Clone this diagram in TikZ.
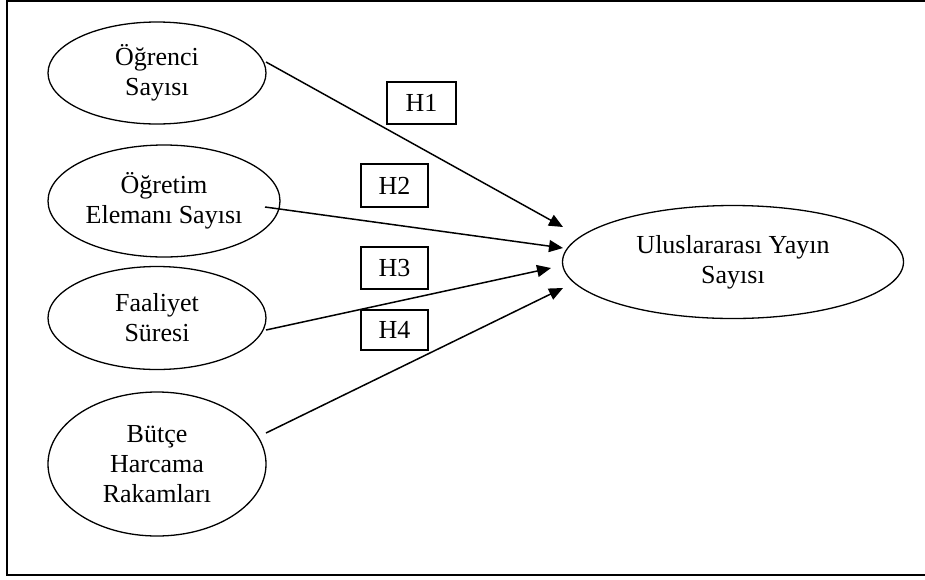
\documentclass[tikz,border=0pt]{standalone}
\usepackage{fontspec}
\setmainfont{Liberation Serif}
\usetikzlibrary{shapes.geometric,arrows.meta}
\begin{document}
\begin{tikzpicture}[x=1pt,y=-1pt,
  oval/.style={draw, ellipse, line width=1.3pt, inner sep=0pt, align=center,
    font=\fontsize{26}{30}\selectfont},
  hbox/.style={draw, rectangle, line width=1.3pt, inner sep=0pt, align=center,
    font=\fontsize{26}{30}\selectfont},
  link/.style={line width=1.5pt, -{Triangle[length=14pt,width=12pt]}}]
\useasboundingbox (0,0) rectangle (925,579);
\draw[line width=2.2pt] (926,1) -- (7,1) -- (7,575) -- (926,575);
\node[oval, minimum width=218pt, minimum height=102pt] (e1) at (157,73) {Öğrenci\\Sayısı};
\node[oval, minimum width=232pt, minimum height=112pt] (e2) at (164,201) {Öğretim\\Elemanı Sayısı};
\node[oval, minimum width=218pt, minimum height=103pt] (e3) at (157,318) {Faaliyet\\Süresi};
\node[oval, minimum width=218pt, minimum height=144pt] (e4) at (157,464) {Bütçe\\Harcama\\Rakamları};
\node[oval, minimum width=341pt, minimum height=113pt] (t) at (733,262) {Uluslararası Yayın\\Sayısı};
\node[hbox, minimum width=69pt, minimum height=42pt] (h1) at (421.5,103) {H1};
\node[hbox, minimum width=67pt, minimum height=43pt] (h2) at (394.5,185.5) {H2};
\node[hbox, minimum width=67pt, minimum height=42pt] (h3) at (394.5,268) {H3};
\node[hbox, minimum width=67pt, minimum height=40pt] (h4) at (394.5,330) {H4};
\coordinate (s1) at (266,62);
\coordinate (s2) at (265,207);
\coordinate (s3) at (266,330);
\coordinate (s4) at (266,433);
\coordinate (t1) at (563,227);
\coordinate (t2) at (563,248);
\coordinate (t3) at (551,268);
\coordinate (t4) at (563,288);
\draw[link] (s1) -- (t1);
\draw[link] (s2) -- (t2);
\draw[link] (s3) -- (t3);
\draw[link] (s4) -- (t4);
\end{tikzpicture}
\end{document}
